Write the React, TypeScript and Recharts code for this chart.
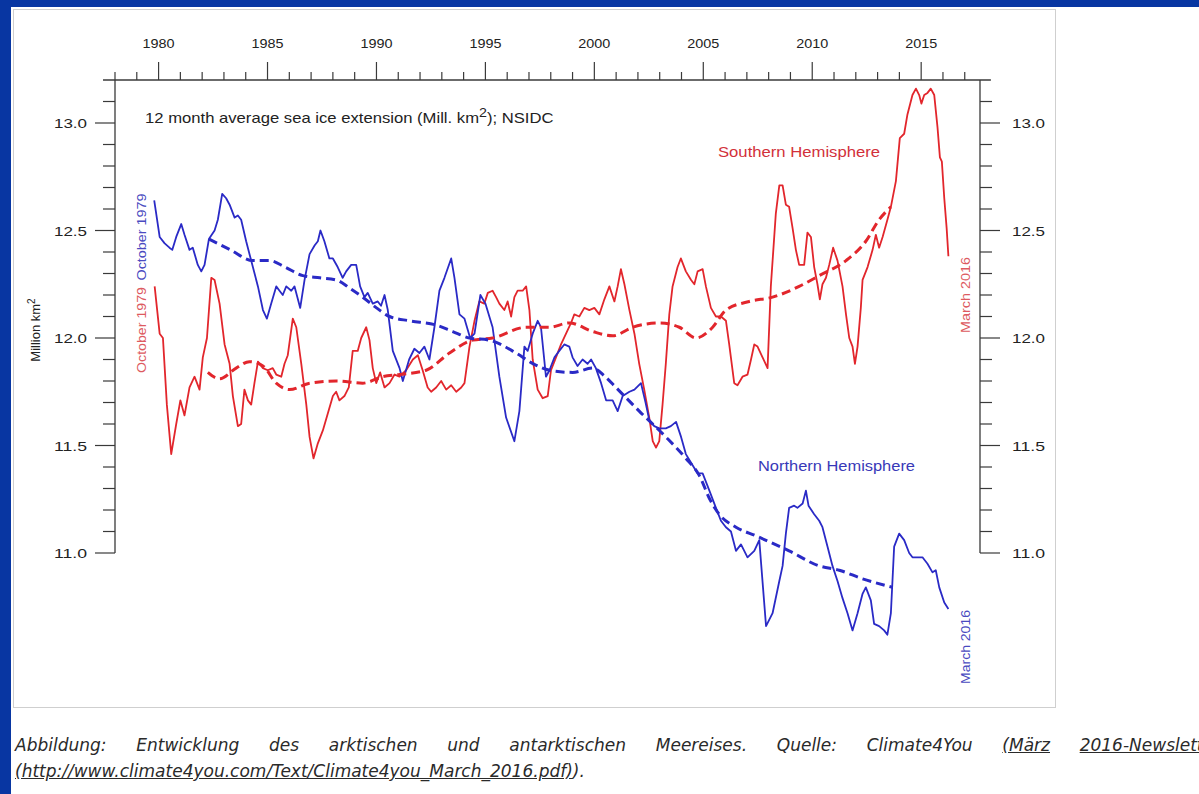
import React from 'react';
import { LineChart, Line, XAxis, YAxis, ReferenceLine } from 'recharts';

// Colours taken from the NSIDC / Climate4You figure
const BLUE = '#2a2ac6';
const RED = '#e2262c';
const AXIS = '#3a3a3a';

// Northern Hemisphere, 12 month running average (Mill. km2)
const nhYears = [
  1979.8, 1980.05, 1980.28, 1980.5, 1980.63, 1980.81, 1981.04, 1981.19, 1981.42, 1981.57,
  1981.8, 1981.96, 1982.11, 1982.31, 1982.57, 1982.72, 1982.92, 1983.1, 1983.26, 1983.49,
  1983.64, 1983.79, 1984.02, 1984.25, 1984.56, 1984.79, 1984.97, 1985.17, 1985.4, 1985.55,
  1985.7, 1985.86, 1986.09, 1986.24, 1986.5, 1986.7, 1986.93, 1987.16, 1987.31, 1987.43,
  1987.61, 1987.84, 1988.0, 1988.22, 1988.45, 1988.61, 1988.84, 1989.07, 1989.25, 1989.45,
  1989.6, 1989.83, 1990.06, 1990.21, 1990.37, 1990.52, 1990.75, 1991.06, 1991.21, 1991.5,
  1991.74, 1991.97, 1992.2, 1992.43, 1992.66, 1992.89, 1993.12, 1993.43, 1993.58, 1993.81,
  1994.04, 1994.3, 1994.5, 1994.77, 1995.0, 1995.33, 1995.64, 1995.95, 1996.33, 1996.56,
  1996.79, 1996.94, 1997.17, 1997.4, 1997.55, 1997.78, 1997.94, 1998.17, 1998.39, 1998.62,
  1998.85, 1999.0, 1999.23, 1999.46, 1999.69, 1999.85, 2000.07, 2000.31, 2000.54, 2000.84,
  2001.07, 2001.3, 2001.61, 2001.84, 2002.14, 2002.35, 2002.52, 2002.75, 2002.98, 2003.28,
  2003.51, 2003.75, 2003.98, 2004.2, 2004.44, 2004.74, 2004.97, 2005.28, 2005.58, 2005.81,
  2006.04, 2006.27, 2006.5, 2006.73, 2006.88, 2007.03, 2007.34, 2007.57, 2007.88, 2008.18,
  2008.49, 2008.64, 2008.79, 2008.94, 2009.17, 2009.32, 2009.56, 2009.71, 2009.83, 2010.09,
  2010.32, 2010.47, 2010.7, 2010.93, 2011.16, 2011.39, 2011.62, 2011.85, 2012.08, 2012.31,
  2012.46, 2012.69, 2012.84, 2013.07, 2013.3, 2013.45, 2013.61, 2013.76, 2013.99, 2014.22,
  2014.45, 2014.6, 2014.83, 2015.06, 2015.29, 2015.52, 2015.67, 2015.83, 2016.06, 2016.25,
];
const nhValues = [
  12.64, 12.47, 12.44, 12.42, 12.41, 12.47, 12.53, 12.48, 12.41, 12.42,
  12.34, 12.31, 12.34, 12.46, 12.5, 12.55, 12.67, 12.65, 12.62, 12.56,
  12.57, 12.55, 12.45, 12.36, 12.24, 12.13, 12.09, 12.16, 12.24, 12.22,
  12.2, 12.24, 12.22, 12.24, 12.14, 12.27, 12.39, 12.43, 12.45, 12.5,
  12.45, 12.37, 12.37, 12.33, 12.28, 12.31, 12.34, 12.34, 12.24, 12.19,
  12.21, 12.16, 12.17, 12.15, 12.2, 12.13, 11.94, 11.86, 11.8, 11.9,
  11.95, 11.93, 11.96, 11.9, 12.05, 12.22, 12.28, 12.37, 12.28, 12.11,
  12.09, 12.0, 12.02, 12.2, 12.16, 12.05, 11.82, 11.63, 11.52, 11.66,
  11.96, 11.94, 12.02, 12.08, 12.05, 11.82, 11.85, 11.91, 11.94, 11.97,
  11.96, 11.91, 11.87, 11.9, 11.88, 11.9, 11.86, 11.79, 11.71, 11.71,
  11.66, 11.73, 11.75, 11.76, 11.79, 11.7, 11.62, 11.59, 11.58, 11.58,
  11.59, 11.61, 11.54, 11.46, 11.42, 11.37, 11.37, 11.29, 11.21, 11.15,
  11.12, 11.1, 11.01, 11.04, 11.01, 10.98, 11.01, 11.06, 10.66, 10.72,
  10.87, 10.94, 11.09, 11.21, 11.22, 11.21, 11.23, 11.29, 11.22, 11.18,
  11.15, 11.12, 11.03, 10.94, 10.87, 10.79, 10.72, 10.64, 10.72, 10.81,
  10.84, 10.78, 10.67, 10.66, 10.64, 10.62, 10.72, 11.03, 11.09, 11.06,
  11.0, 10.98, 10.98, 10.98, 10.95, 10.91, 10.92, 10.84, 10.77, 10.74,
];

// Southern Hemisphere, 12 month running average (Mill. km2)
const shYears = [
  1979.82, 1980.05, 1980.2, 1980.38, 1980.58, 1980.81, 1981.0, 1981.19, 1981.42, 1981.65,
  1981.88, 1982.03, 1982.22, 1982.42, 1982.57, 1982.8, 1983.03, 1983.26, 1983.41, 1983.64,
  1983.79, 1983.94, 1984.1, 1984.25, 1984.4, 1984.56, 1984.79, 1985.01, 1985.24, 1985.4,
  1985.63, 1985.78, 1985.93, 1986.16, 1986.32, 1986.55, 1986.78, 1986.93, 1987.11, 1987.31,
  1987.54, 1987.77, 1988.0, 1988.15, 1988.3, 1988.53, 1988.73, 1988.91, 1989.14, 1989.3,
  1989.53, 1989.68, 1989.83, 1989.99, 1990.17, 1990.37, 1990.6, 1990.83, 1991.06, 1991.36,
  1991.67, 1991.9, 1992.12, 1992.35, 1992.51, 1992.74, 1992.97, 1993.2, 1993.43, 1993.66,
  1993.89, 1994.04, 1994.27, 1994.5, 1994.72, 1994.95, 1995.11, 1995.33, 1995.49, 1995.64,
  1995.87, 1996.02, 1996.18, 1996.33, 1996.48, 1996.71, 1996.87, 1997.02, 1997.17, 1997.4,
  1997.63, 1997.86, 1998.01, 1998.24, 1998.47, 1998.7, 1998.93, 1999.08, 1999.31, 1999.54,
  1999.77, 2000.0, 2000.23, 2000.46, 2000.69, 2000.92, 2001.07, 2001.22, 2001.38, 2001.61,
  2001.84, 2002.06, 2002.29, 2002.52, 2002.68, 2002.83, 2002.98, 2003.13, 2003.28, 2003.44,
  2003.59, 2003.82, 2003.97, 2004.2, 2004.44, 2004.59, 2004.74, 2004.97, 2005.12, 2005.35,
  2005.58, 2005.81, 2006.04, 2006.19, 2006.42, 2006.57, 2006.8, 2007.03, 2007.19, 2007.34,
  2007.49, 2007.72, 2007.95, 2008.1, 2008.33, 2008.49, 2008.64, 2008.79, 2008.94, 2009.1,
  2009.25, 2009.4, 2009.63, 2009.78, 2009.94, 2010.09, 2010.24, 2010.35, 2010.47, 2010.63,
  2010.78, 2010.96, 2011.16, 2011.39, 2011.55, 2011.7, 2011.85, 2011.96, 2012.08, 2012.23,
  2012.31, 2012.54, 2012.77, 2012.92, 2013.07, 2013.23, 2013.45, 2013.61, 2013.84, 2014.02,
  2014.22, 2014.37, 2014.6, 2014.76, 2014.91, 2015.01, 2015.14, 2015.29, 2015.44, 2015.6,
  2015.75, 2015.86, 2015.95, 2016.06, 2016.17, 2016.25,
];
const shValues = [
  12.24, 12.02, 12.0, 11.69, 11.46, 11.6, 11.71, 11.64, 11.77, 11.82,
  11.76, 11.91, 12.0, 12.28, 12.27, 12.16, 11.97, 11.88, 11.73, 11.59,
  11.6, 11.76, 11.71, 11.69, 11.79, 11.89, 11.86, 11.85, 11.86, 11.83,
  11.82, 11.88, 11.92, 12.09, 12.05, 11.88, 11.69, 11.54, 11.44, 11.51,
  11.57, 11.65, 11.73, 11.75, 11.71, 11.73, 11.77, 11.94, 11.94, 12.0,
  12.05, 11.99, 11.86, 11.79, 11.84, 11.77, 11.79, 11.83, 11.82, 11.85,
  11.9, 11.92, 11.85, 11.77, 11.75, 11.77, 11.8, 11.76, 11.78, 11.75,
  11.77, 11.79, 11.96, 12.08, 12.17, 12.16, 12.21, 12.22, 12.19, 12.16,
  12.13, 12.17, 12.1, 12.19, 12.22, 12.22, 12.24, 12.13, 11.9, 11.76,
  11.72, 11.73, 11.85, 11.91, 11.97, 12.02, 12.07, 12.11, 12.1, 12.14,
  12.13, 12.14, 12.11, 12.18, 12.24, 12.17, 12.24, 12.32, 12.25, 12.13,
  12.02, 11.88, 11.76, 11.63, 11.52, 11.49, 11.52, 11.69, 11.88, 12.11,
  12.24, 12.33, 12.37, 12.31, 12.27, 12.25, 12.31, 12.32, 12.24, 12.14,
  12.1, 12.1, 12.08, 11.97, 11.79, 11.78, 11.82, 11.83, 11.9, 11.97,
  11.96, 11.91, 11.86, 12.24, 12.58, 12.71, 12.71, 12.62, 12.61, 12.51,
  12.41, 12.34, 12.34, 12.49, 12.47, 12.33, 12.25, 12.18, 12.25, 12.28,
  12.34, 12.42, 12.36, 12.24, 12.11, 12.0, 11.96, 11.88, 11.96, 12.14,
  12.27, 12.33, 12.41, 12.48, 12.42, 12.47, 12.55, 12.61, 12.73, 12.93,
  12.95, 13.04, 13.13, 13.16, 13.13, 13.09, 13.13, 13.14, 13.16, 13.13,
  12.98, 12.84, 12.82, 12.65, 12.51, 12.38,
];

// Smoothed trend lines (dashed)
const nhTrendYears = [
  1982.31, 1983.3, 1984.33, 1985.1, 1985.8, 1986.62, 1987.4, 1988.15, 1988.8, 1989.37,
  1990.0, 1990.6, 1991.51, 1992.74, 1993.5, 1994.27, 1995.18, 1996.41, 1997.2, 1997.94,
  1999.0, 1999.93, 2000.5, 2000.99, 2002.06, 2003.28, 2004.2, 2004.82, 2005.3, 2005.73,
  2006.5, 2007.41, 2008.94, 2010.32, 2011.24, 2012.31, 2013.69,
];
const nhTrendValues = [
  12.46, 12.41, 12.36, 12.36, 12.33, 12.29, 12.28, 12.27, 12.23, 12.19,
  12.14, 12.1, 12.08, 12.06, 12.03, 12.0, 11.99, 11.93, 11.88, 11.85,
  11.84, 11.86, 11.82, 11.77, 11.66, 11.54, 11.44, 11.36, 11.25, 11.18,
  11.12, 11.08, 11.01, 10.94, 10.92, 10.88, 10.84,
];
const shTrendYears = [
  1982.26, 1982.8, 1983.56, 1984.17, 1984.79, 1985.4, 1986.01, 1986.93, 1988.15, 1989.37,
  1990.29, 1991.06, 1992.28, 1993.35, 1994.42, 1995.33, 1996.87, 1997.94, 1998.85, 1999.93,
  2000.84, 2001.76, 2002.98, 2003.9, 2004.67, 2005.43, 2006.04, 2007.11, 2008.18, 2009.4,
  2010.32, 2011.55, 2012.46, 2013.07, 2013.61,
];
const shTrendValues = [
  11.84, 11.81, 11.86, 11.89, 11.87, 11.79, 11.76, 11.79, 11.8, 11.79,
  11.82, 11.83, 11.85, 11.93, 11.99, 12.0, 12.05, 12.05, 12.07, 12.03,
  12.01, 12.05, 12.07, 12.05, 12.0, 12.05, 12.13, 12.17, 12.19, 12.24,
  12.29, 12.36, 12.45, 12.55, 12.61,
];

// Axis ticks
const yearTicks = [
  1978, 1979, 1980, 1981, 1982, 1983, 1984, 1985, 1986, 1987, 1988, 1989, 1990, 1991,
  1992, 1993, 1994, 1995, 1996, 1997, 1998, 1999, 2000, 2001, 2002, 2003, 2004, 2005,
  2006, 2007, 2008, 2009, 2010, 2011, 2012, 2013, 2014, 2015, 2016, 2017,
];
const extentTicks = [
  11.0, 11.1, 11.2, 11.3, 11.4, 11.5, 11.6, 11.7, 11.8, 11.9, 12.0,
  12.1, 12.2, 12.3, 12.4, 12.5, 12.6, 12.7, 12.8, 12.9, 13.0, 13.1,
];

const X_MIN = 1978;
const X_MAX = 2017.7;
const Y_MIN = 10.4;
const Y_MAX = 13.2;

const toRows = (years: number[], values: number[]) =>
  years.map((year, i) => ({ year, value: values[i] }));

const nhData = toRows(nhYears, nhValues);
const shData = toRows(shYears, shValues);
const nhTrend = toRows(nhTrendYears, nhTrendValues);
const shTrend = toRows(shTrendYears, shTrendValues);

const FONT = '"Liberation Sans", Arial, sans-serif';

const isMajor = (v: number) => Math.round(v * 10) % 5 === 0;

// the scanned figure is stretched sideways, so labels get a fixed width
const TopTick = (props: any) => {
  const { x, y, payload } = props;
  const major = payload.value % 5 === 0;
  return (
    <g>
      <line x1={x} x2={x} y1={y} y2={y - (major ? 18 : 8)} stroke={AXIS} strokeWidth={1.2} />
      {major && (
        <text x={x} y={y - 32} textAnchor="middle" fontSize={13.5} fill="#222" fontFamily={FONT}
          textLength={32} lengthAdjust="spacingAndGlyphs">
          {payload.value}
        </text>
      )}
    </g>
  );
};

const LeftTick = (props: any) => {
  const { x, y, payload } = props;
  const major = isMajor(payload.value);
  return (
    <g>
      <line x1={x - (major ? 20 : 12)} x2={x} y1={y} y2={y} stroke={AXIS} strokeWidth={1.2} />
      {major && (
        <text x={x - 28} y={y + 5} textAnchor="end" fontSize={13.5} fill="#222" fontFamily={FONT}
          textLength={33} lengthAdjust="spacingAndGlyphs">
          {payload.value.toFixed(1)}
        </text>
      )}
    </g>
  );
};

const RightTick = (props: any) => {
  const { x, y, payload } = props;
  const major = isMajor(payload.value);
  return (
    <g>
      <line x1={x} x2={x + (major ? 20 : 12)} y1={y} y2={y} stroke={AXIS} strokeWidth={1.2} />
      {major && (
        <text x={x + 32} y={y + 5} textAnchor="start" fontSize={13.5} fill="#222" fontFamily={FONT}
          textLength={33} lengthAdjust="spacingAndGlyphs">
          {payload.value.toFixed(1)}
        </text>
      )}
    </g>
  );
};

const words = [
  'Abbildung:', 'Entwicklung', 'des', 'arktischen', 'und', 'antarktischen',
  'Meereises.', 'Quelle:', 'Climate4You',
];

export default function App() {
  return (
    <div style={{ position: 'absolute', left: 0, top: 0, width: 1199, height: 794, background: '#0836a2', overflow: 'hidden' }}>
      <div style={{ position: 'absolute', left: 11, top: 7, right: 0, bottom: 0, background: '#fff' }} />
      <div style={{ position: 'absolute', left: 13, top: 9, width: 1041, height: 697, border: '1px solid #cfcfcf', background: '#fff' }} />

      <div style={{ position: 'absolute', left: 0, top: 0 }}>
        <LineChart
          width={1199}
          height={794}
          margin={{ top: 40, right: 119, bottom: 112, left: 15 }}
        >
          <XAxis
            xAxisId="x"
            dataKey="year"
            type="number"
            orientation="top"
            domain={[X_MIN, X_MAX]}
            ticks={yearTicks}
            allowDataOverflow
            height={40}
            axisLine={false}
            tickLine={false}
            tickSize={0}
            tickMargin={0}
            interval={0}
            tick={TopTick}
          />
          <YAxis
            yAxisId="left"
            type="number"
            domain={[Y_MIN, Y_MAX]}
            ticks={extentTicks}
            allowDataOverflow
            width={100}
            axisLine={false}
            tickLine={false}
            tickSize={0}
            tickMargin={0}
            interval={0}
            tick={LeftTick}
          />
          <YAxis
            yAxisId="right"
            orientation="right"
            type="number"
            domain={[Y_MIN, Y_MAX]}
            ticks={extentTicks}
            allowDataOverflow
            width={100}
            axisLine={false}
            tickLine={false}
            tickSize={0}
            tickMargin={0}
            interval={0}
            tick={RightTick}
          />

          <ReferenceLine
            xAxisId="x"
            yAxisId="left"
            ifOverflow="visible"
            segment={[{ x: 1977.45, y: Y_MAX }, { x: 2018.2, y: Y_MAX }]}
            stroke={AXIS}
            strokeWidth={1.3}
          />
          <ReferenceLine
            xAxisId="x"
            yAxisId="left"
            ifOverflow="visible"
            segment={[{ x: X_MIN, y: 11 }, { x: X_MIN, y: Y_MAX }]}
            stroke={AXIS}
            strokeWidth={1.3}
          />
          <ReferenceLine
            xAxisId="x"
            yAxisId="left"
            ifOverflow="visible"
            segment={[{ x: X_MAX, y: 11 }, { x: X_MAX, y: Y_MAX }]}
            stroke={AXIS}
            strokeWidth={1.3}
          />

          <Line xAxisId="x" yAxisId="left" data={shData} dataKey="value" type="linear" stroke={RED} strokeWidth={1.8} dot={false} isAnimationActive={false} strokeLinejoin="round" />
          <Line xAxisId="x" yAxisId="left" data={nhData} dataKey="value" type="linear" stroke={BLUE} strokeWidth={1.8} dot={false} isAnimationActive={false} strokeLinejoin="round" />
          <Line xAxisId="x" yAxisId="left" data={shTrend} dataKey="value" type="monotone" stroke={RED} strokeWidth={3} strokeDasharray="9 5" dot={false} isAnimationActive={false} />
          <Line xAxisId="x" yAxisId="left" data={nhTrend} dataKey="value" type="monotone" stroke={BLUE} strokeWidth={3} strokeDasharray="9 5" dot={false} isAnimationActive={false} />
        </LineChart>
      </div>

      <svg width={1199} height={794} style={{ position: 'absolute', left: 0, top: 0, pointerEvents: 'none' }}>
        <g fontFamily={FONT}>
          <text transform="translate(145 123) scale(1.19 1)" fontSize={14} fill="#222">
            12 month average sea ice extension (Mill. km
            <tspan dy={-6} fontSize={12}>2</tspan>
            <tspan dy={6}>); NSIDC</tspan>
          </text>
          <text transform="translate(40 330) rotate(-90)" textAnchor="middle" fontSize={13} fill="#222">
            Million km<tspan dy={-5} fontSize={10}>2</tspan>
          </text>
          <text x={718} y={157} fontSize={14} fill="#d2303a" textLength={162} lengthAdjust="spacingAndGlyphs">Southern Hemisphere</text>
          <text x={758} y={471} fontSize={14} fill="#3838b8" textLength={157} lengthAdjust="spacingAndGlyphs">Northern Hemisphere</text>
          <text transform="translate(146 237) rotate(-90)" textAnchor="middle" fontSize={13} fill="#4a4ac0" textLength={87} lengthAdjust="spacingAndGlyphs">October 1979</text>
          <text transform="translate(146 330) rotate(-90)" textAnchor="middle" fontSize={13} fill="#dd5a60" textLength={86} lengthAdjust="spacingAndGlyphs">October 1979</text>
          <text transform="translate(970 295) rotate(-90)" textAnchor="middle" fontSize={13} fill="#dd5a60" textLength={76} lengthAdjust="spacingAndGlyphs">March 2016</text>
          <text transform="translate(970 647) rotate(-90)" textAnchor="middle" fontSize={13} fill="#4a4ac0" textLength={74} lengthAdjust="spacingAndGlyphs">March 2016</text>
        </g>
      </svg>

      <div
        style={{
          position: 'absolute',
          left: 15,
          top: 732,
          width: 1206,
          fontFamily: '"DejaVu Sans", sans-serif',
          fontStyle: 'italic',
          fontSize: 17,
          color: '#2a2a2a',
          lineHeight: '26px',
        }}
      >
        <div style={{ display: 'flex', justifyContent: 'space-between', whiteSpace: 'nowrap' }}>
          {words.map((w) => (
            <span key={w}>{w}</span>
          ))}
          <span style={{ textDecoration: 'underline' }}>(März</span>
          <span style={{ textDecoration: 'underline' }}>2016-Newsletter</span>
        </div>
        <div>
          <span style={{ textDecoration: 'underline' }}>(http://www.climate4you.com/Text/Climate4you_March_2016.pdf)</span>
          <span>).</span>
        </div>
      </div>
    </div>
  );
}
